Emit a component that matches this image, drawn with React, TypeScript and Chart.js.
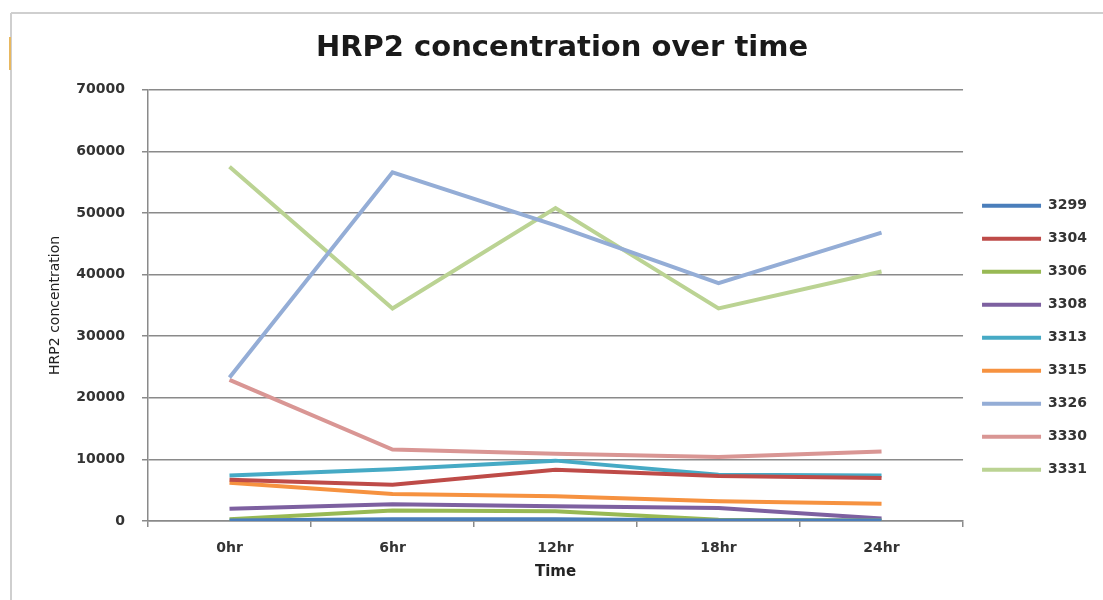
import React, { useEffect, useRef } from "react";
import { Chart, registerables } from "chart.js";
Chart.register(...registerables);

const categories = ["0hr", "6hr", "12hr", "18hr", "24hr"];
const seriesNames = ["3299", "3304", "3306", "3308", "3313", "3315", "3326", "3330", "3331"];
const s3299 = [100, 300, 300, 100, 100];
const s3304 = [6700, 5900, 8300, 7300, 7000];
const s3306 = [300, 1700, 1600, 200, 100];
const s3308 = [2000, 2700, 2400, 2100, 400];
const s3313 = [7400, 8400, 9800, 7500, 7400];
const s3315 = [6200, 4400, 4000, 3200, 2800];
const s3326 = [23300, 56600, 48000, 38600, 46800];
const s3330 = [22900, 11600, 10900, 10400, 11300];
const s3331 = [57500, 34500, 50800, 34500, 40500];
const seriesValues = [s3299, s3304, s3306, s3308, s3313, s3315, s3326, s3330, s3331];
const seriesColors = ["#4A7EBB", "#BE4B48", "#98B954", "#7D60A0", "#46AAC5", "#F69240", "#94ADD6", "#D99694", "#BBD393"];
const yTickStep = 10000;
const yMax = 70000;

const FONT = "DejaVu Sans";

export default function App() {
  const ref = useRef<HTMLCanvasElement | null>(null);
  useEffect(() => {
    const canvas = ref.current;
    if (!canvas) return;
    const chart = new Chart(canvas, {
      type: "line",
      data: {
        labels: categories,
        datasets: seriesNames.map((n, i) => ({
          label: n,
          data: seriesValues[i],
          borderColor: seriesColors[i],
          backgroundColor: seriesColors[i],
          borderWidth: 4,
          pointRadius: 0,
          tension: 0,
          fill: false,
        })),
      },
      options: {
        responsive: false,
        animation: false,
        layout: { padding: { top: 31, left: 27, right: 6, bottom: 16 } },
        plugins: {
          tooltip: { enabled: false },
          title: {
            display: true,
            text: "HRP2 concentration over time",
            color: "#1a1a1a",
            font: { family: FONT, size: 29, weight: "bold" },
            padding: { top: 0, bottom: 24 },
          },
          legend: {
            position: "right",
            title: { display: true, text: "", font: { size: 12 }, padding: { top: 23, bottom: 23 } },
            labels: {
              boxWidth: 59,
              boxHeight: 4,
              padding: 19,
              color: "#333",
              font: { family: FONT, size: 14, weight: "bold" },
              generateLabels: (c: any) => {
                const items = Chart.defaults.plugins.legend.labels.generateLabels(c);
                return items.map((it: any) => ({ ...it, lineWidth: 0 }));
              },
            },
          },
        },
        scales: {
          x: {
            offset: true,
            grid: { display: true, drawOnChartArea: false, drawTicks: true, tickLength: 6, color: "#8a8a8a", lineWidth: 1.5, offset: true },
            border: { color: "#8a8a8a", width: 1.5 },
            ticks: { padding: 13, color: "#333", font: { family: FONT, size: 14, weight: "bold" } },
            title: { display: true, text: "Time", color: "#222", font: { family: FONT, size: 15, weight: "bold" }, padding: { top: 4, bottom: 3 } },
            afterFit: (s: any) => { s.height = 63; },
          },
          y: {
            min: 0,
            max: yMax,
            grid: { color: "#8a8a8a", lineWidth: 1.5, tickLength: 6 },
            border: { color: "#8a8a8a", width: 1.5 },
            ticks: {
              stepSize: yTickStep,
              padding: 17,
              color: "#333",
              font: { family: FONT, size: 14, weight: "bold" },
              callback: (v: any) => String(v),
            },
            title: { display: true, text: "HRP2 concentration", color: "#222", font: { family: FONT, size: 14 }, padding: { top: 20, bottom: 4 } },
            afterFit: (s: any) => { s.width = 121; },
          },
        },
      },
    });
    return () => chart.destroy();
  }, []);
  return (
    <div style={{ position: "absolute", left: 0, top: 0, width: 1103, height: 600, background: "#fff", overflow: "hidden" }}>
      <div style={{ position: "absolute", left: 11, top: 12, right: 0, height: 2, background: "#cfcfcf" }} />
      <div style={{ position: "absolute", left: 10, top: 13, width: 2, bottom: 0, background: "#cfcfcf" }} />
      <div style={{ position: "absolute", left: 9, top: 37, width: 2, height: 33, background: "#e8b860" }} />
      <canvas ref={ref} width={1103} height={600} style={{ position: "absolute", left: 0, top: 0 }} />
    </div>
  );
}
